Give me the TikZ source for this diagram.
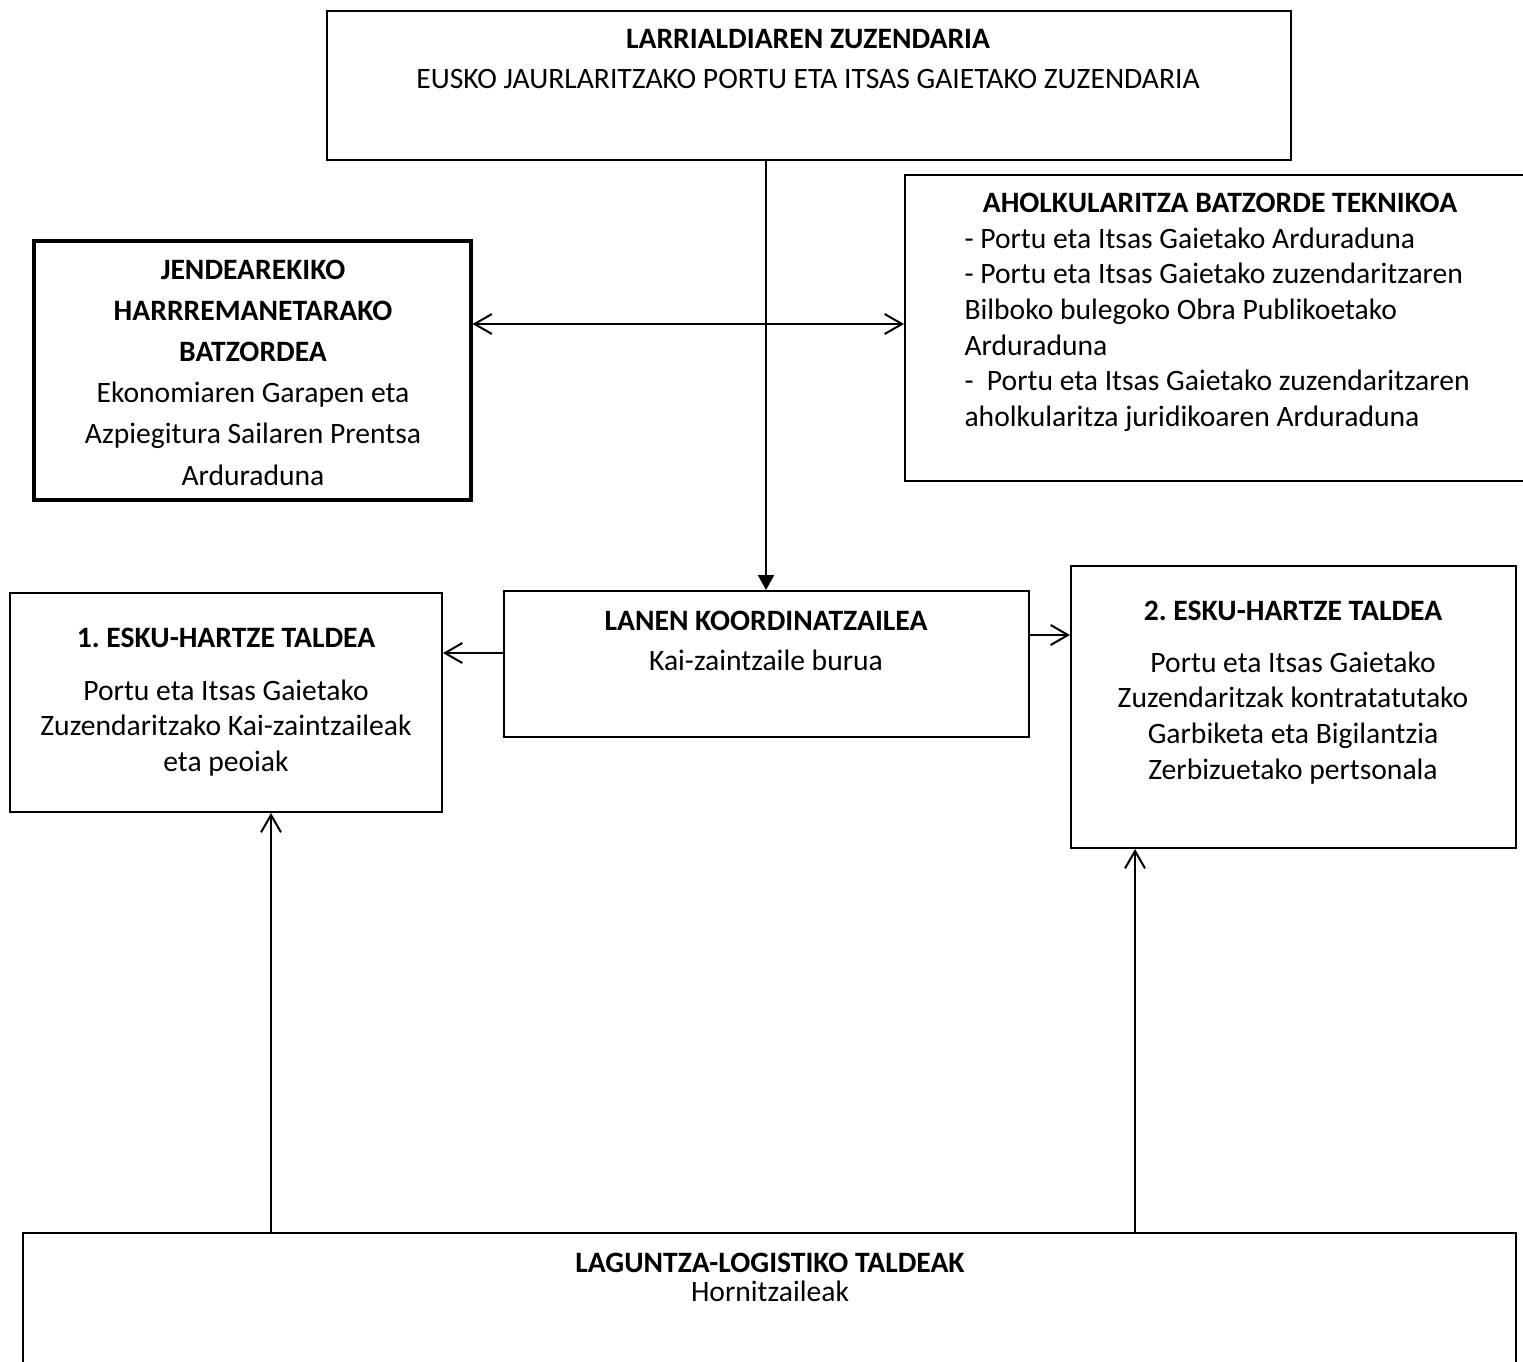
\documentclass[tikz,border=0pt]{standalone}
\usepackage{fontspec}
\setmainfont{Carlito}
\usetikzlibrary{arrows.meta,fit}
\frenchspacing
\begin{document}
\begin{tikzpicture}[x=0.375pt,y=-0.375pt,
  box/.style={draw, line width=0.75pt, inner sep=0pt},
  thickbox/.style={draw, line width=1.15pt, inner sep=0pt},
  txt/.style={inner sep=0pt, font=\fontsize{11.1}{13.4}\selectfont},
  wide/.style={inner sep=0pt, font=\fontsize{11.1}{15.2}\selectfont},
  conn/.style={line width=0.75pt},
  oarr/.style={conn, -{Straight Barb[length=6.5pt,width=7.5pt,line width=0.75pt]}},
  farr/.style={conn, -{Triangle[length=5.6pt,width=6pt]}}]
\useasboundingbox (0,0) rectangle (1523,1361);
\clip (0,0) rectangle (1523,1361);

% boxes
\node[box, fit={(327,11) (1291,160)}] (top) {};
\node[box, fit={(905,175) (1535,481)}] (aholku) {};
\node[thickbox, fit={(34,241) (471,500)}] (jende) {};
\node[box, fit={(504,591) (1029,737)}] (lanen) {};
\node[box, fit={(10,593) (442,812)}] (esku1) {};
\node[box, fit={(1071,566) (1516,848)}] (esku2) {};
\node[box, fit={(23,1233) (1516,1420)}] (lag) {};

% texts
\node[wide, anchor=base] (ttop) at (808,48) {\begin{tabular}[t]{@{}c@{}}\textbf{LARRIALDIAREN ZUZENDARIA}\\EUSKO JAURLARITZAKO PORTU ETA ITSAS GAIETAKO ZUZENDARIA\end{tabular}};

\node[txt, anchor=base] (tahtitle) at (1220,212) {\textbf{AHOLKULARITZA BATZORDE TEKNIKOA}};
\node[txt, anchor=base west] (tahlist) at (964,248) {\begin{tabular}[t]{@{}l@{}}- Portu eta Itsas Gaietako Arduraduna\\- Portu eta Itsas Gaietako zuzendaritzaren\\Bilboko bulegoko Obra Publikoetako\\Arduraduna\\- ~Portu eta Itsas Gaietako zuzendaritzaren\\aholkularitza juridikoaren Arduraduna\end{tabular}};

\node[inner sep=0pt, font=\fontsize{11.1}{15.45}\selectfont, anchor=base] (tjende) at (253,279) {\begin{tabular}[t]{@{}c@{}}\textbf{JENDEAREKIKO}\\\textbf{HARRREMANETARAKO}\\\textbf{BATZORDEA}\\Ekonomiaren Garapen eta\\Azpiegitura Sailaren Prentsa\\Arduraduna\end{tabular}};

\node[wide, anchor=base] (tlanen) at (766,630) {\begin{tabular}[t]{@{}c@{}}\textbf{LANEN KOORDINATZAILEA}\\Kai-zaintzaile burua\end{tabular}};

\node[txt, anchor=base] (te1title) at (226,647) {\textbf{1. ESKU-HARTZE TALDEA}};
\node[txt, anchor=base] (te1body) at (226,700) {\begin{tabular}[t]{@{}c@{}}Portu eta Itsas Gaietako\\Zuzendaritzako Kai-zaintzaileak\\eta peoiak\end{tabular}};

\node[txt, anchor=base] (te2title) at (1293,620) {\textbf{2. ESKU-HARTZE TALDEA}};
\node[txt, anchor=base] (te2body) at (1293,672) {\begin{tabular}[t]{@{}c@{}}Portu eta Itsas Gaietako\\Zuzendaritzak kontratatutako\\Garbiketa eta Bigilantzia\\Zerbizuetako pertsonala\end{tabular}};

\node[txt, anchor=base] (tlagtitle) at (770,1272) {\textbf{LAGUNTZA-LOGISTIKO TALDEAK}};
\node[txt, anchor=base] (tlagbody) at (770,1301) {Hornitzaileak};

% connectors
\coordinate (vx) at (766,0);
\draw[farr] (vx |- top.south) -- (vx |- lanen.north);
\coordinate (hc) at (766,324);
\draw[oarr] (hc) -- (hc -| jende.east);
\draw[oarr] (hc) -- (hc -| aholku.west);
\coordinate (l1) at (504,653);
\draw[oarr] (l1) -- (l1 -| esku1.east);
\coordinate (l2) at (1029,635);
\draw[oarr] (l2) -- (l2 -| esku2.west);
\coordinate (u1) at (271,0);
\draw[oarr] (u1 |- lag.north) -- (u1 |- esku1.south);
\coordinate (u2) at (1135,0);
\draw[oarr] (u2 |- lag.north) -- (u2 |- esku2.south);
\end{tikzpicture}
\end{document}
